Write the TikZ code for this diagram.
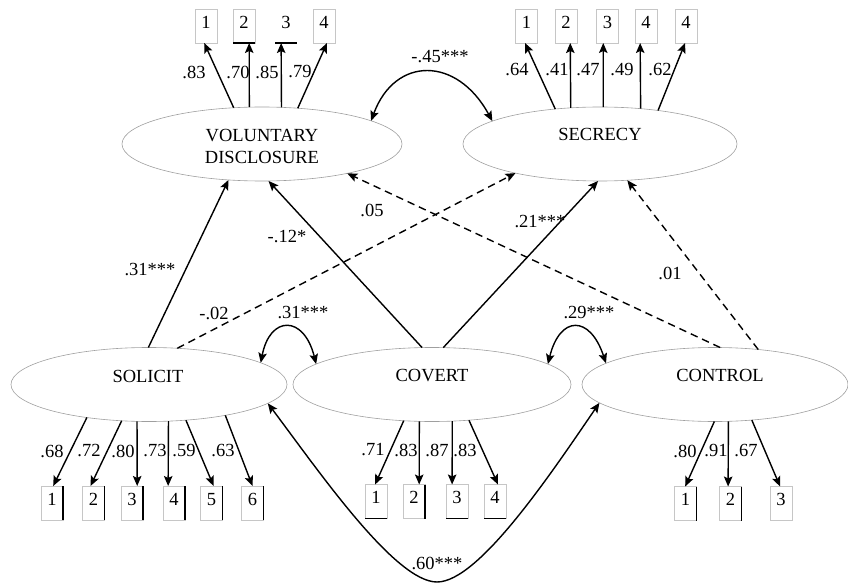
\documentclass[tikz,border=0pt]{standalone}
\usepackage{fontspec}
\setmainfont{Liberation Serif}
\usetikzlibrary{shapes.geometric,arrows.meta}
\begin{document}
\begin{tikzpicture}[x=1pt,y=-1pt,
  lat/.style={ellipse,draw=gray!75,line width=0.6pt,minimum height=74pt,inner sep=0pt,outer sep=0pt},
  ind/.style={rectangle,draw=gray!45,line width=0.6pt,minimum width=22pt,minimum height=34pt,inner sep=0pt,outer sep=0pt,text depth=8pt,font=\fontsize{18.5}{18.5}\selectfont},
  lbl/.style={inner sep=0pt,font=\fontsize{18.5}{21.5}\selectfont},
  coef/.style={inner sep=0pt,font=\fontsize{18.5}{18.5}\selectfont},
  arr/.style={-{Stealth[length=10pt,width=8.5pt,inset=2pt]},line width=1.4pt},
  darr/.style={arr,dash pattern=on 7.5pt off 5pt},
  cov/.style={{Stealth[length=10pt,width=8.5pt,inset=2pt]}-{Stealth[length=10pt,width=8.5pt,inset=2pt]},line width=1.4pt},
  blk/.style={line width=1.6pt,black}
]
\useasboundingbox (0,0) rectangle (848,585);
% latent variables
\node[lat,minimum width=280pt] (VD) at (262,144) {};
\node[lat,minimum width=274pt] (SEC) at (600,144) {};
\node[lat,minimum width=276pt] (SOL) at (149,384.5) {};
\node[lat,minimum width=278pt] (COV) at (432,384.5) {};
\node[lat,minimum width=266pt] (CON) at (715,384.5) {};
\node[lbl,align=center] (tVD) at (262,146.5) {VOLUNTARY\\DISCLOSURE};
\node[lbl] (tSEC) at (600,134.5) {SECRECY};
\node[lbl] (tSOL) at (148,376) {SOLICIT};
\node[lbl] (tCOV) at (432,375.5) {COVERT};
\node[lbl] (tCON) at (720,375.5) {CONTROL};
% indicators
\node[ind] (v1) at (206,26) {1};
\node[ind] (v2) at (244,26) {2};
\node[ind,draw=none] (v3) at (286,26) {3};
\node[ind] (v4) at (324,26) {4};
\node[ind] (s1) at (526.5,26) {1};
\node[ind] (s2) at (566,26) {2};
\node[ind] (s3) at (607.5,26) {3};
\node[ind] (s4) at (646,26) {4};
\node[ind] (s5) at (686,26) {4};
\node[ind] (o1) at (52,503) {1};
\node[ind] (o2) at (93.5,503) {2};
\node[ind] (o3) at (132,503) {3};
\node[ind] (o4) at (174,503) {4};
\node[ind] (o5) at (211.5,503) {5};
\node[ind] (o6) at (252.5,503) {6};
\node[ind] (c1) at (376,501.5) {1};
\node[ind] (c2) at (414,501.5) {2};
\node[ind] (c3) at (457,501.5) {3};
\node[ind] (c4) at (495,501.5) {4};
\node[ind] (n1) at (685.5,503.5) {1};
\node[ind] (n2) at (730.5,503.5) {2};
\node[ind] (n3) at (781,503.5) {3};
% black edges of indicator boxes
\draw[blk] (v2.south west) -- (v2.south east);
\draw[blk] (v3.south west) -- (v3.south east);
\foreach \b in {o1,o2,o3,o4,o5,o6,c2,n1,n2} \draw[blk] (\b.north east) -- (\b.south east);
\foreach \b in {c1,c3,c4} \draw[blk] (\b.south west) -- (\b.south east);
% loadings
\draw[arr] (VD.128.7) -- (v1.-96.7);
\draw[arr] (VD.109.5) -- (v2.-73.6);
\draw[arr] (VD.62.6) -- (v3.-106.4);
\draw[arr] (VD.45.6) -- (v4.-80);
\draw[arr] (SEC.142.2) -- (s1.-95);
\draw[arr] (SEC.129.7) -- (s2.-76.8);
\draw[arr] (SEC.85.4) -- (s3.-104.8);
\draw[arr] (SEC.41.5) -- (s4.-109.4);
\draw[arr] (SEC.30) -- (s5.-93.4);
\draw[arr] (SOL.-152.9) -- (o1.86.6);
\draw[arr] (SOL.-127.7) -- (o2.100);
\draw[arr] (SOL.-108) -- (o3.73.6);
\draw[arr] (SOL.-62.6) -- (o4.109.4);
\draw[arr] (SOL.-44.8) -- (o5.83.3);
\draw[arr] (SOL.-22.9) -- (o6.90);
\draw[arr] (COV.-128.7) -- (c1.93.4);
\draw[arr] (COV.-109.5) -- (c2.73.6);
\draw[arr] (COV.-61.3) -- (c3.106.4);
\draw[arr] (COV.-44.8) -- (c4.80);
\draw[arr] (CON.-91.5) -- (n1.91.7);
\draw[arr] (CON.-70.5) -- (n2.98.4);
\draw[arr] (CON.-44.7) -- (n3.93.4);
\node[coef] at (194,72) {.83};
\node[coef] at (238,72) {.70};
\node[coef] at (267,72) {.85};
\node[coef] at (300,72) {.79};
\node[coef] at (517,70) {.64};
\node[coef] at (557,70) {.41};
\node[coef] at (588,70) {.47};
\node[coef] at (622,70) {.49};
\node[coef] at (660,70) {.62};
\node[coef] at (52,451) {.68};
\node[coef] at (89,451) {.72};
\node[coef] at (123,451) {.80};
\node[coef] at (155,451) {.73};
\node[coef] at (184,451) {.59};
\node[coef] at (223,451) {.63};
\node[coef] at (373,450) {.71};
\node[coef] at (406,450) {.83};
\node[coef] at (437,450) {.87};
\node[coef] at (465,450) {.83};
\node[coef] at (685,451) {.80};
\node[coef] at (716,451) {.91};
\node[coef] at (746,451) {.67};
% structural paths
\draw[arr] (SOL.91.5) -- (VD.-133.4);
\draw[darr] (SOL.52.3) -- (SEC.-161.8);
\draw[arr] (COV.105.2) -- (VD.-80.8);
\draw[arr] (COV.73.4) -- (SEC.-93.1);
\draw[darr] (CON.82.3) -- (VD.-19.1);
\draw[darr] (CON.39.9) -- (SEC.-53.4);
% covariances
\draw[cov] (VD.12.9) .. controls (395,56) and (457,56) .. (SEC.168.7);
\draw[cov] (SOL.11.2) .. controls (270,315) and (304,315) .. (COV.170.3);
\draw[cov] (COV.10) .. controls (560,315) and (590,315) .. (CON.169.9);
\draw[cov] (SOL.-9) .. controls (318,470) and (395,582) .. (437,582) .. controls (479,582) and (552,472) .. (CON.-171);
% path labels
\node[coef] (l1) at (150,270) {.31***};
\node[coef] (l2) at (214,313) {-.02};
\node[coef] (l3) at (287,237) {-.12*};
\node[coef] (l4) at (372,210) {.05};
\node[coef] (l5) at (540,222) {.21***};
\node[coef] (l6) at (670,273) {.01};
\node[coef] (l7) at (440,57) {-.45***};
\node[coef] (l8) at (303,313) {.31***};
\node[coef] (l9) at (589,313) {.29***};
\node[coef] (l10) at (437,563) {.60***};
\end{tikzpicture}
\end{document}
